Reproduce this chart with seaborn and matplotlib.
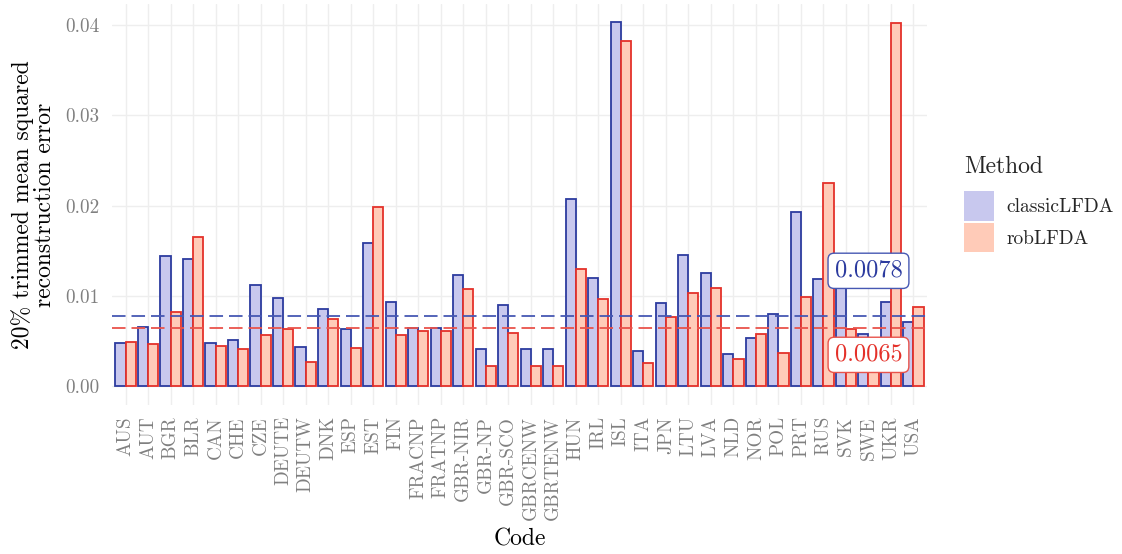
import numpy as np
import pandas as pd
import matplotlib
matplotlib.use("Agg")
import matplotlib.pyplot as plt
import seaborn as sns
from matplotlib.patches import Patch
from matplotlib.ticker import FixedLocator, FormatStrFormatter

# Per-country 20% trimmed MSE of the reconstruction, by method
codes = ["AUS", "AUT", "BGR", "BLR", "CAN", "CHE", "CZE", "DEUTE", "DEUTW",
         "DNK", "ESP", "EST", "FIN", "FRACNP", "FRATNP", "GBR-NIR", "GBR-NP",
         "GBR-SCO", "GBRCENW", "GBRTENW", "HUN", "IRL", "ISL", "ITA", "JPN",
         "LTU", "LVA", "NLD", "NOR", "POL", "PRT", "RUS", "SVK", "SWE", "UKR",
         "USA"]
classic_lfda = [0.00485, 0.00663, 0.01449, 0.01409, 0.00478, 0.00515, 0.01121,
                0.00977, 0.00434, 0.00862, 0.00641, 0.01583, 0.00936, 0.00652,
                0.00645, 0.01232, 0.00419, 0.00903, 0.00416, 0.00416, 0.02070,
                0.01206, 0.04039, 0.00397, 0.00929, 0.01457, 0.01254, 0.00360,
                0.00541, 0.00800, 0.01930, 0.01191, 0.01200, 0.00582, 0.00940,
                0.00718]
rob_lfda = [0.00496, 0.00467, 0.00822, 0.01653, 0.00452, 0.00419, 0.00574,
            0.00641, 0.00271, 0.00745, 0.00423, 0.01982, 0.00574, 0.00612,
            0.00610, 0.01077, 0.00231, 0.00593, 0.00231, 0.00231, 0.01298,
            0.00973, 0.03820, 0.00257, 0.00767, 0.01039, 0.01091, 0.00301,
            0.00578, 0.00368, 0.00995, 0.02251, 0.00634, 0.00420, 0.04020,
            0.00884]
methods = ["classicLFDA", "robLFDA"]
overall = {"classicLFDA": 0.0078, "robLFDA": 0.0065}
label_offset = {"classicLFDA": 0.0050, "robLFDA": -0.0030}
label_code = "SWE"
y_ticks = [0.00, 0.01, 0.02, 0.03, 0.04]

fill_colors = {"classicLFDA": "#C8C8EE", "robLFDA": "#FFCBB8"}
edge_colors = {"classicLFDA": "#2C3B9F", "robLFDA": "#E4312A"}
line_colors = {"classicLFDA": "#4658B3", "robLFDA": "#E9534B"}

df = pd.DataFrame({
    "Code": codes * 2,
    "Method": [methods[0]] * len(codes) + [methods[1]] * len(codes),
    "Error": classic_lfda + rob_lfda,
})

sns.set_theme(style="whitegrid")
plt.rcParams["font.family"] = ["cmr10"]
plt.rcParams["axes.formatter.use_mathtext"] = True

fig = plt.figure(figsize=(11.22, 5.54), dpi=100)
ax = fig.add_axes([112 / 1122, 149 / 554, 815 / 1122, 401 / 554])

sns.barplot(data=df, x="Code", y="Error", hue="Method", order=codes,
            hue_order=methods, palette=fill_colors, saturation=1,
            width=0.9, gap=0, errorbar=None, linewidth=1.3, legend=False,
            ax=ax)
for cont, m in zip(ax.containers, methods):
    for bar in cont:
        bar.set_edgecolor(edge_colors[m])
        bar.set_zorder(2)

# reference lines and their value labels
xi = codes.index(label_code)
for m in methods:
    ax.axhline(overall[m], color=line_colors[m], lw=1.3, ls=(0, (7.5, 3.3)),
               zorder=3)
    ax.text(xi, overall[m] + label_offset[m], f"{overall[m]:.4f}",
            color=edge_colors[m], fontsize=17.5, ha="center", va="center",
            zorder=5,
            bbox=dict(boxstyle="round,pad=0.27,rounding_size=0.25",
                      fc="white", ec=line_colors[m], lw=1.0))

ax.set_xlim(-0.6, len(codes) - 0.4)
ax.set_ylim(-0.00205, 0.04233)
ax.yaxis.set_major_locator(FixedLocator(y_ticks))
ax.yaxis.set_major_formatter(FormatStrFormatter("%.2f"))
ax.grid(True, color="#EEEEEE", lw=1.0)
ax.set_axisbelow(True)
for s in ax.spines.values():
    s.set_visible(False)
ax.tick_params(axis="both", length=0, labelsize=13.8, colors="#808080")
ax.tick_params(axis="x", pad=8, labelrotation=90)
ax.tick_params(axis="y", pad=9)
for t in ax.get_xticklabels():
    t.set_va("top")
ax.set_xlabel("")
ax.set_ylabel("")

fig.text(519.5 / 1122, 1 - 546 / 554, "Code", ha="center", va="baseline",
         fontsize=17, color="black")
fig.text(34 / 1122, 1 - 204.5 / 554,
         "20% trimmed mean squared\nreconstruction error", rotation=90,
         ha="center", va="center", multialignment="center", fontsize=17,
         linespacing=1.0, color="black")

handles = [Patch(facecolor=fill_colors[m], edgecolor="none", label=m)
           for m in methods]
leg = fig.legend(handles=handles, title="Method", loc="upper left",
                 bbox_to_anchor=(964 / 1122, 1 - 156 / 554), frameon=False,
                 fontsize=14, title_fontsize=17, handlelength=1.55,
                 handleheight=1.95, handletextpad=0.65, labelspacing=0.1,
                 borderpad=0, borderaxespad=0, alignment="left")
# extra room between the legend title and its keys
leg._legend_box.sep = 9.5

fig.savefig("out.png", dpi=100, facecolor="white")
